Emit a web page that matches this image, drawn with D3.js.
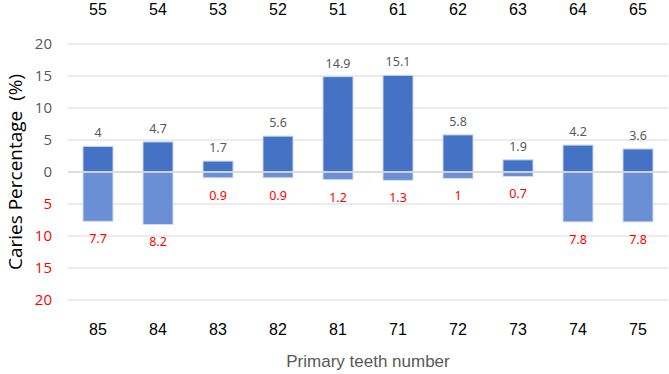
<!DOCTYPE html>
<html>
<head>
<meta charset="utf-8">
<script src="https://cdn.jsdelivr.net/npm/d3@7"></script>
<style>
  body { margin: 0; background: #fff; }
  svg { display: block; }
</style>
</head>
<body>
<div id="chart"></div>
<script>
// data
var upperTeeth = ["55", "54", "53", "52", "51", "61", "62", "63", "64", "65"];
var lowerTeeth = ["85", "84", "83", "82", "81", "71", "72", "73", "74", "75"];
var upperValues = [4, 4.7, 1.7, 5.6, 14.9, 15.1, 5.8, 1.9, 4.2, 3.6];
var lowerValues = [7.7, 8.2, 0.9, 0.9, 1.2, 1.3, 1, 0.7, 7.8, 7.8];
var tickValues = [20, 15, 10, 5, 0, -5, -10, -15, -20];

var svgWidth = 669;
var svgHeight = 374;

var margin = { top: 44, right: 1, bottom: 74, left: 68 };
var width = svgWidth - margin.left - margin.right;
var height = svgHeight - margin.top - margin.bottom;

var svg = d3.select("#chart")
  .append("svg")
  .attr("width", svgWidth)
  .attr("height", svgHeight);

var chartGroup = svg.append("g")
  .attr("transform", `translate(${margin.left}, ${margin.top})`);

var xScale = d3.scaleBand()
  .domain(d3.range(upperTeeth.length))
  .range([0, width])
  .paddingInner(0.5)
  .paddingOuter(0.25);

var yScale = d3.scaleLinear()
  .domain([-20, 20])
  .range([height, 0]);

// gridlines
chartGroup.selectAll(".grid")
  .data(tickValues)
  .enter()
  .append("line")
  .attr("x1", 0)
  .attr("x2", width)
  .attr("y1", d => yScale(d))
  .attr("y2", d => yScale(d))
  .attr("stroke", "#d9d9d9")
  .attr("stroke-width", 1);

// y axis labels (absolute values, lower half in red)
var yAxis = d3.axisLeft(yScale)
  .tickValues(tickValues)
  .tickSize(0)
  .tickPadding(16)
  .tickFormat(d => Math.abs(d));

var yAxisG = chartGroup.append("g").call(yAxis);
yAxisG.select(".domain").remove();
yAxisG.selectAll("text")
  .attr("font-family", "Open Sans, sans-serif")
  .attr("font-size", 15)
  .attr("fill", d => d < 0 ? "#ff0000" : "#595959");

// upper bars
chartGroup.selectAll(".upper")
  .data(upperValues)
  .enter()
  .append("rect")
  .attr("x", (d, i) => xScale(i))
  .attr("y", d => yScale(d))
  .attr("width", xScale.bandwidth())
  .attr("height", d => yScale(0) - yScale(d))
  .attr("fill", "#4472c4")
  .attr("stroke", "#c9d6ee")
  .attr("stroke-width", 1);

// lower bars
chartGroup.selectAll(".lower")
  .data(lowerValues)
  .enter()
  .append("rect")
  .attr("x", (d, i) => xScale(i))
  .attr("y", yScale(0))
  .attr("width", xScale.bandwidth())
  .attr("height", d => yScale(-d) - yScale(0))
  .attr("fill", "#6a8fd5")
  .attr("stroke", "#d3ddf1")
  .attr("stroke-width", 1);

// zero line drawn over the bars
chartGroup.append("line")
  .attr("x1", 0)
  .attr("x2", width)
  .attr("y1", yScale(0))
  .attr("y2", yScale(0))
  .attr("stroke", "#d9d9d9")
  .attr("stroke-width", 1.5);

// value labels
chartGroup.selectAll(".upperLabel")
  .data(upperValues)
  .enter()
  .append("text")
  .attr("x", (d, i) => xScale(i) + xScale.bandwidth() / 2)
  .attr("y", d => yScale(d) - 9)
  .attr("text-anchor", "middle")
  .attr("font-family", "Noto Sans, sans-serif")
  .attr("font-size", 12.5)
  .attr("fill", "#595959")
  .text(d => d);

chartGroup.selectAll(".lowerLabel")
  .data(lowerValues)
  .enter()
  .append("text")
  .attr("x", (d, i) => xScale(i) + xScale.bandwidth() / 2)
  .attr("y", d => yScale(-d) + 22)
  .attr("text-anchor", "middle")
  .attr("font-family", "Noto Sans, sans-serif")
  .attr("font-size", 12.5)
  .attr("fill", "#ff0000")
  .text(d => d);

// tooth numbers on top and bottom
chartGroup.selectAll(".upperTooth")
  .data(upperTeeth)
  .enter()
  .append("text")
  .attr("x", (d, i) => xScale(i) + xScale.bandwidth() / 2)
  .attr("y", -29)
  .attr("text-anchor", "middle")
  .attr("font-family", "Liberation Sans, Arial, sans-serif")
  .attr("font-size", 16)
  .attr("fill", "#000")
  .text(d => d);

chartGroup.selectAll(".lowerTooth")
  .data(lowerTeeth)
  .enter()
  .append("text")
  .attr("x", (d, i) => xScale(i) + xScale.bandwidth() / 2)
  .attr("y", height + 35)
  .attr("text-anchor", "middle")
  .attr("font-family", "Liberation Sans, Arial, sans-serif")
  .attr("font-size", 16)
  .attr("fill", "#000")
  .text(d => d);

// axis titles
svg.append("text")
  .attr("x", margin.left + width / 2)
  .attr("y", 367)
  .attr("text-anchor", "middle")
  .attr("font-family", "Liberation Sans, Arial, sans-serif")
  .attr("font-size", 17)
  .attr("fill", "#595959")
  .text("Primary teeth number");

svg.append("text")
  .attr("transform", `translate(22, ${margin.top + height / 2}) rotate(-90)`)
  .attr("text-anchor", "middle")
  .attr("font-family", "Open Sans, sans-serif")
  .attr("font-size", 19)
  .attr("fill", "#000")
  .text("Caries Percentage\u00a0\u00a0(%)");
</script>
</body>
</html>
